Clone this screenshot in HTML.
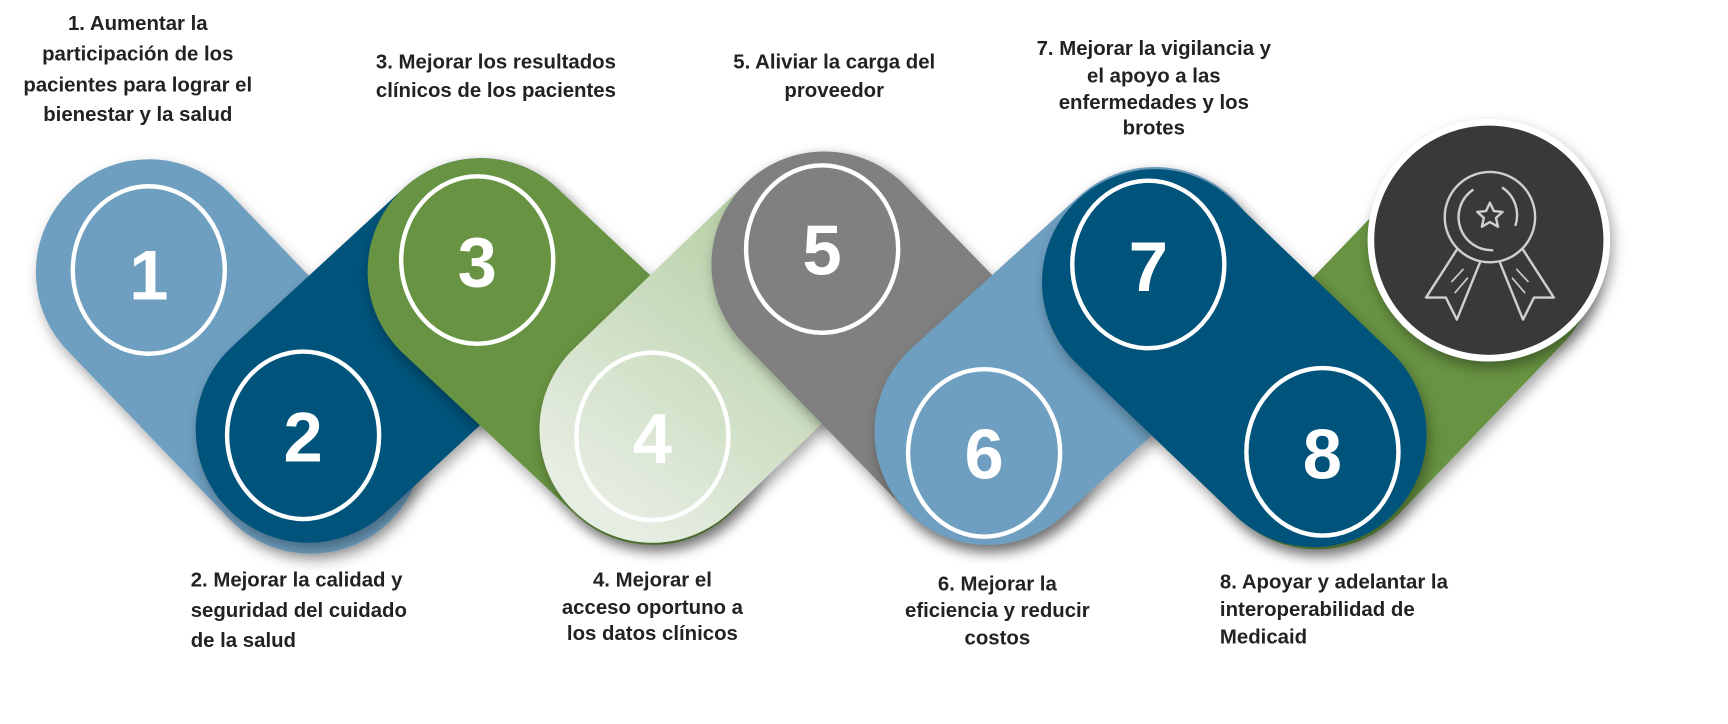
<!DOCTYPE html>
<html><head><meta charset="utf-8"><style>
html,body{margin:0;padding:0;background:#fff;width:1728px;height:724px;overflow:hidden}
svg{display:block}
.t{font-family:"Liberation Sans",sans-serif;font-weight:bold;font-size:18.5px;fill:#222}
.n{font-family:"Liberation Sans",sans-serif;font-weight:bold;font-size:64px;fill:#fff;text-anchor:middle}
</style></head><body>
<svg width="1728" height="724" viewBox="0 0 1568 657" xmlns="http://www.w3.org/2000/svg">
<defs>
<filter id="sh" filterUnits="userSpaceOnUse" x="-100" y="-100" width="1800" height="900"><feDropShadow dx="3" dy="6" stdDeviation="6" flood-color="#000" flood-opacity="0.35"/></filter>
<linearGradient id="lg" gradientUnits="userSpaceOnUse" x1="760" y1="230" x2="580" y2="480"><stop offset="0" stop-color="#b4cfa3"/><stop offset="1" stop-color="#e6ede2"/></linearGradient>
</defs>
<g stroke-linecap="round" fill="none" stroke-width="205">
<path d="M135 247 L282 400" stroke="#6e9fc1" filter="url(#sh)"/>
<path d="M280 390 L436 246" stroke="#00527a" filter="url(#sh)"/>
<path d="M436 246 L592 392" stroke="#679343" filter="url(#sh)"/>
<path d="M592 390 L748 240" stroke="url(#lg)" filter="url(#sh)"/>
<path d="M748 240 L896 392" stroke="#808080" filter="url(#sh)"/>
<path d="M896 392 L1048 254" stroke="#6e9fc1" filter="url(#sh)"/>
<path d="M1195 396 L1345 240" stroke="#679343" filter="url(#sh)"/>
<path d="M1048 256 L1192 394" stroke="#00527a" filter="url(#sh)"/>
</g>
<g fill="none" stroke="#fff" stroke-width="4">
<ellipse cx="135" cy="245" rx="69" ry="76"/>
<ellipse cx="275" cy="395" rx="69" ry="76"/>
<ellipse cx="433" cy="236" rx="69" ry="76"/>
<ellipse cx="592" cy="396" rx="69" ry="76"/>
<ellipse cx="746" cy="226" rx="69" ry="76"/>
<ellipse cx="893" cy="411" rx="69" ry="76"/>
<ellipse cx="1042" cy="240" rx="69" ry="76"/>
<ellipse cx="1200" cy="410" rx="69" ry="76"/>
</g>
<g>
<text x="135" y="272" class="n">1</text>
<text x="275" y="419" class="n">2</text>
<text x="433" y="260" class="n">3</text>
<text x="592" y="420" class="n">4</text>
<text x="746" y="249" class="n">5</text>
<text x="893" y="434" class="n">6</text>
<text x="1042" y="264" class="n">7</text>
<text x="1200" y="434" class="n">8</text>
</g>
<circle cx="1351" cy="218" r="107" fill="#3a3938" stroke="#fff" stroke-width="6" filter="url(#sh)"/>
<g fill="none" stroke="#cfcfcf" stroke-width="2.2" stroke-linejoin="round">
<circle cx="1352" cy="197" r="41"/>
<path d="M1337 172 A30 30 0 0 0 1355 227 M1363 170 A30 30 0 0 1 1375 205"/>
<path d="M1352 184 l3.5 7.5 8 .8 -6 5.4 1.8 8 -7.3-4.2 -7.3 4.2 1.8-8 -6-5.4 8-.8z"/>
<path d="M1323 225 L1294 270 L1312 270 L1322 290 L1343 238"/>
<path d="M1381 225 L1410 270 L1392 270 L1382 290 L1361 238"/>
<path d="M1317 256 L1328 244 M1320 266 L1332 252 M1387 256 L1376 244 M1384 266 L1372 252" stroke-width="1.5"/>
</g>
<g class="t" text-anchor="middle">
<text x="125" y="27">1. Aumentar la</text>
<text x="125" y="55">participación de los</text>
<text x="125" y="83">pacientes para lograr el</text>
<text x="125" y="110">bienestar y la salud</text>
<text x="450" y="62">3. Mejorar los resultados</text>
<text x="450" y="88">clínicos de los pacientes</text>
<text x="757" y="62">5. Aliviar la carga del</text>
<text x="757" y="88">proveedor</text>
<text x="1047" y="50">7. Mejorar la vigilancia y</text>
<text x="1047" y="75">el apoyo a las</text>
<text x="1047" y="99">enfermedades y los</text>
<text x="1047" y="122">brotes</text>
<text x="592" y="532">4. Mejorar el</text>
<text x="592" y="557">acceso oportuno a</text>
<text x="592" y="581">los datos clínicos</text>
<text x="905" y="536">6. Mejorar la</text>
<text x="905" y="560">eficiencia y reducir</text>
<text x="905" y="585">costos</text>
</g>
<g class="t">
<text x="173" y="532">2. Mejorar la calidad y</text>
<text x="173" y="560">seguridad del cuidado</text>
<text x="173" y="587">de la salud</text>
<text x="1107" y="534">8. Apoyar y adelantar la</text>
<text x="1107" y="559">interoperabilidad de</text>
<text x="1107" y="584">Medicaid</text>
</g>
</svg>
</body></html>
